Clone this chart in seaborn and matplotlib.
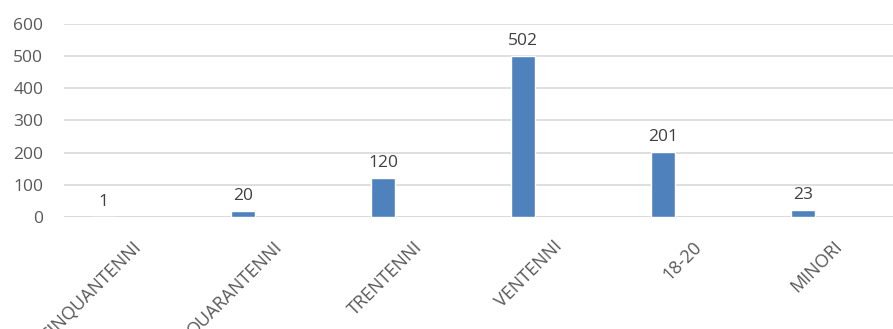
import matplotlib
matplotlib.use("Agg")
import matplotlib.pyplot as plt
from matplotlib.transforms import ScaledTranslation
import seaborn as sns
import pandas as pd

categories = ["CINQUANTENNI", "QUARANTENNI", "TRENTENNI", "VENTENNI", "18-20", "MINORI"]
values = [1, 20, 120, 502, 201, 23]
yticks = [0, 100, 200, 300, 400, 500, 600]

sns.set_theme(style="white")
plt.rcParams["font.family"] = ["Open Sans", "DejaVu Sans"]

df = pd.DataFrame({"gruppo": categories, "n": values})

fig = plt.figure(figsize=(8.93, 3.29), dpi=100)
ax = fig.add_axes([64 / 893, 1 - 217 / 329, 1 - 64 / 893, (217 - 24) / 329])

sns.barplot(data=df, x="gruppo", y="n", color="#4F81BD", saturation=1,
            width=0.17, ax=ax, zorder=3)

ax.set_ylim(0, 600)
ax.set_xlim(-0.28, 5.64)
ax.set_yticks(yticks)
ax.set_yticklabels([str(t) for t in yticks], fontsize=12.5, color="#595959")
ax.yaxis.grid(True, color="#D9D9D9", linewidth=1.2, zorder=0)
ax.set_axisbelow(True)
for s in ax.spines.values():
    s.set_visible(False)
ax.axhline(0, color="#D9D9D9", linewidth=1.2, zorder=1)
ax.tick_params(axis="y", length=0, pad=15)
ax.tick_params(axis="x", length=0, pad=0)
ax.set_xlabel("")
ax.set_ylabel("")

ax.set_xticks(range(len(categories)))
ax.set_xticklabels(categories, rotation=45, ha="right", va="center",
                   rotation_mode="anchor", fontsize=13, color="#595959")
shift = ScaledTranslation(0.36, -0.27, fig.dpi_scale_trans)
for lbl in ax.get_xticklabels():
    lbl.set_transform(lbl.get_transform() + shift)

for c in ax.containers:
    ax.bar_label(c, labels=[str(v) for v in values], padding=5,
                 fontsize=12.5, color="#404040")

fig.savefig("out.png", dpi=100)
